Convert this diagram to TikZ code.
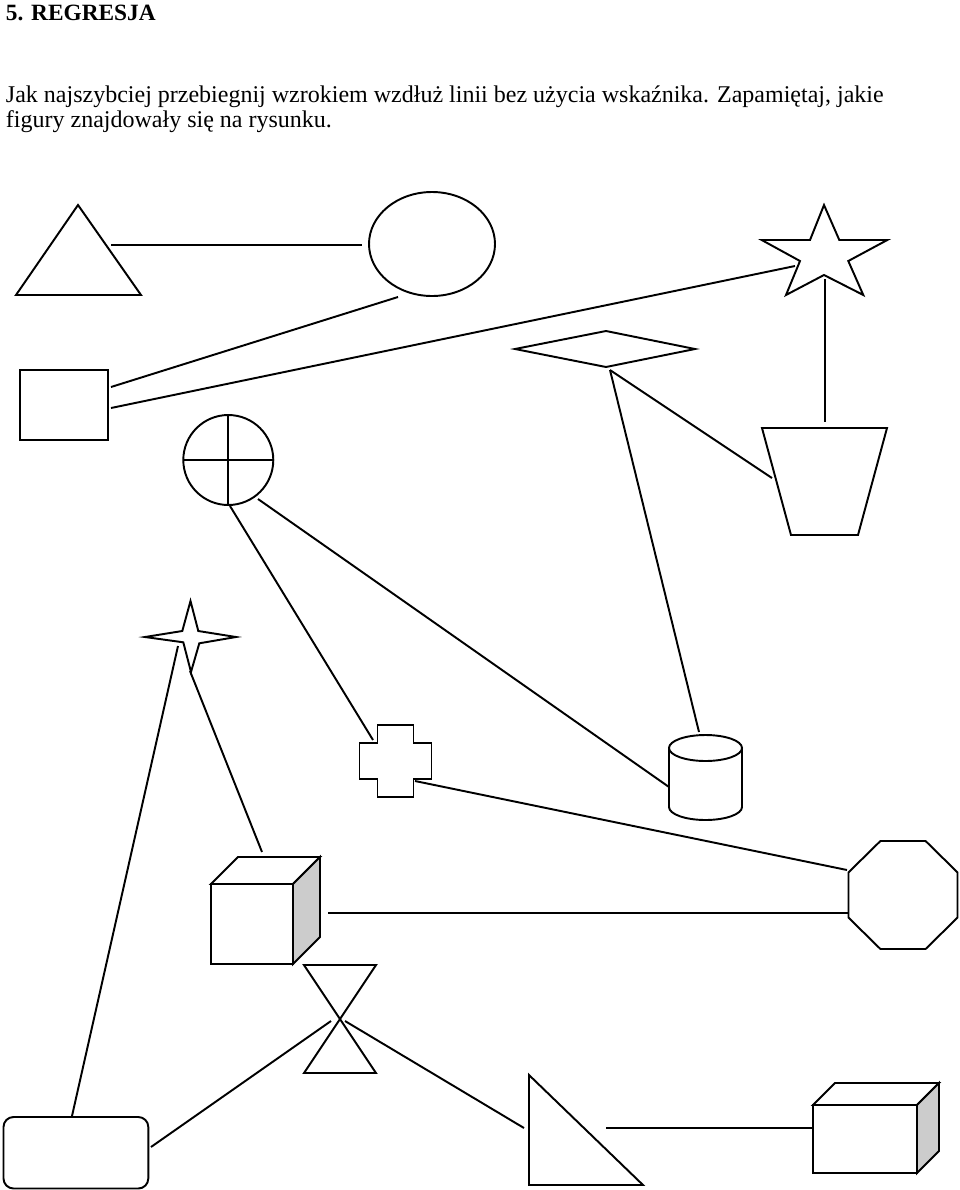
\documentclass[tikz,border=0pt]{standalone}
\usepackage{fontspec}
\setmainfont{Liberation Serif}
\definecolor{sidegray}{RGB}{204,204,204}
\begin{document}
\begin{tikzpicture}[x=0.75pt,y=-0.75pt,line width=1.45pt,line join=miter,
  figline/.style={draw=black},
  conn/.style={draw=black},
  side/.style={draw=black,fill=sidegray},
  bodytext/.style={anchor=base west,inner sep=0,font=\fontsize{18}{21}\selectfont}]
\useasboundingbox (0,0) rectangle (960,1190);
% texts
\node[anchor=base west,inner sep=0,font=\fontsize{17.5}{20}\selectfont\bfseries] (title) at (5,20) {5. REGRESJA};
\node[bodytext] (task1) at (5,102) {Jak najszybciej przebiegnij wzrokiem wzdłuż linii bez użycia wskaźnika. Zapamiętaj, jakie};
\node[bodytext] (task2) at (5,127) {figury znajdowały się na rysunku.};

% shapes
\draw[figline] (16,295) -- (141,295) -- (78,205) -- cycle;           % triangle
\draw[figline] (432,244) ellipse [x radius=63, y radius=52];          % ellipse
\draw[figline] (824,205)--(839.3,240)--(887.3,240)--(848.3,261)--(863.3,295)--(824,275)
  --(786,295)--(800,261)--(761.7,240)--(810,240)--cycle;            % star
\draw[figline] (20,370) rectangle (108,440);                          % square
\draw[figline] (515,349)--(606,331)--(695,349)--(606,367)--cycle;     % diamond
\draw[figline] (762,428)--(887,428)--(858,535)--(791,535)--cycle;     % trapezoid
\draw[figline] (228.3,460) circle [radius=45];                        % circle
\draw[figline] (183.3,460)--(273.3,460) (228.3,415)--(228.3,505);
\draw[figline] (190.5,601)--(198.3,631)--(236,637)--(199.3,643.3)--(191,672)
  --(183.3,642.3)--(145,637)--(182.3,631)--cycle;                   % 4-point star
\draw[figline] (377.5,725)--(413.5,725)--(413.5,743)--(431.5,743)--(431.5,779)--(413.5,779)
  --(413.5,797)--(377.5,797)--(377.5,779)--(359.5,779)--(359.5,743)--(377.5,743)--cycle; % plus
\draw[figline] (705.5,748) ellipse [x radius=36.5, y radius=13];      % cylinder
\draw[figline] (669,748)--(669,807) arc [start angle=180,end angle=0,x radius=36.5,y radius=13] -- (742,748);
\draw[figline] (957.5,872.4)--(925.6,841)--(880.4,841)--(848.5,872.4)--(848.5,917.6)
  --(880.4,949)--(925.6,949)--(957.5,917.6)--cycle;                 % octagon
\draw[figline] (211,884) rectangle (293,964);                         % cube
\draw[figline] (211,884)--(238,857)--(320,857)--(293,884)--cycle;
\draw[side] (293,884)--(320,857)--(320,937)--(293,964)--cycle;
\draw[figline] (304,965)--(376,965)--(304,1073)--(376,1073)--cycle;   % hourglass
\draw[figline,rounded corners=7.5pt] (3.5,1117) rectangle (148.3,1188.5); % rounded rect
\draw[figline] (529,1075)--(529,1185)--(643,1185)--cycle;             % right triangle
\draw[figline] (813,1105) rectangle (917,1173);                       % box
\draw[figline] (813,1105)--(835,1083)--(939,1083)--(917,1105)--cycle;
\draw[side] (917,1105)--(939,1083)--(939,1151)--(917,1173)--cycle;

% connector end points
\coordinate (triR) at (111,245);   \coordinate (ellL) at (362,245);
\coordinate (sqA) at (111,387);    \coordinate (ellB) at (398,297);
\coordinate (sqB) at (111,408);    \coordinate (starL) at (795,266);
\coordinate (starB) at (825,279);  \coordinate (trapT) at (825,422);
\coordinate (diaB) at (610,370);   \coordinate (trapL) at (772,478);
\coordinate (cylT) at (699,732);
\coordinate (cirB) at (230,506);   \coordinate (plusTL) at (373,740);
\coordinate (cirBR) at (258,499);  \coordinate (cylL) at (669,787);
\coordinate (plusBR) at (415,781); \coordinate (octUL) at (847,870);
\coordinate (cubeR) at (328,913);  \coordinate (octL) at (848,913);
\coordinate (fsA) at (178,646);    \coordinate (rrT) at (72,1116);
\coordinate (fsB) at (190,671);    \coordinate (cubeT) at (262,852);
\coordinate (hgL) at (331,1021);   \coordinate (rrR) at (151,1147);
\coordinate (hgR) at (345,1021);   \coordinate (rtL) at (524,1128);
\coordinate (rtR) at (606,1128);   \coordinate (boxL) at (813,1128);

% connectors
\draw[conn] (triR) -- (ellL);
\draw[conn] (sqA) -- (ellB);
\draw[conn] (sqB) -- (starL);
\draw[conn] (starB) -- (trapT);
\draw[conn] (diaB) -- (trapL);
\draw[conn] (diaB) -- (cylT);
\draw[conn] (cirB) -- (plusTL);
\draw[conn] (cirBR) -- (cylL);
\draw[conn] (plusBR) -- (octUL);
\draw[conn] (cubeR) -- (octL);
\draw[conn] (fsA) -- (rrT);
\draw[conn] (fsB) -- (cubeT);
\draw[conn] (hgL) -- (rrR);
\draw[conn] (hgR) -- (rtL);
\draw[conn] (rtR) -- (boxL);
\end{tikzpicture}
\end{document}
